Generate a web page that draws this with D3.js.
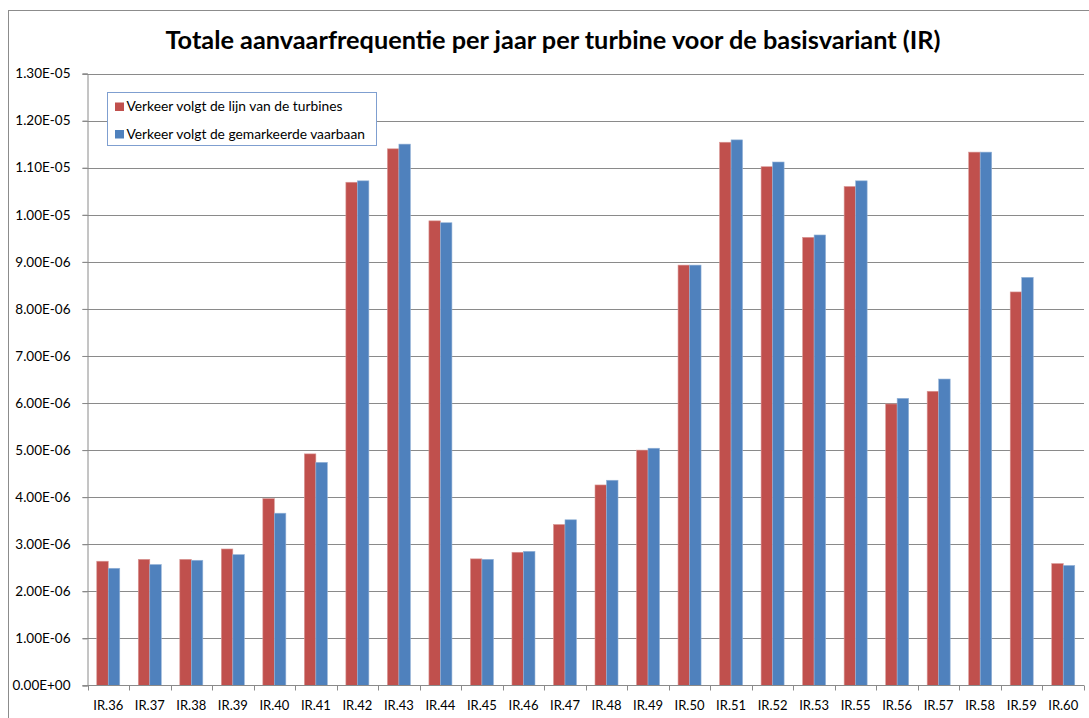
<!DOCTYPE html>
<html>
<head>
<meta charset="utf-8">
<script src="https://cdn.jsdelivr.net/npm/d3@7"></script>
<style>
  html, body { margin: 0; padding: 0; background: #fff; }
  svg { display: block; font-family: Lato, "Open Sans", sans-serif; }
</style>
</head>
<body>
<svg id="chart" width="1089" height="718"></svg>
<script>
// Turbines (IR.54 is absent from the set)
const categories = ["IR.36","IR.37","IR.38","IR.39","IR.40","IR.41","IR.42","IR.43","IR.44","IR.45","IR.46","IR.47","IR.48","IR.49","IR.50","IR.51","IR.52","IR.53","IR.55","IR.56","IR.57","IR.58","IR.59","IR.60"];

const seriesNames = ["Verkeer volgt de lijn van de turbines", "Verkeer volgt de gemarkeerde vaarbaan"];

// Collision frequency per year per turbine
const lijnTurbines = [2.64e-6,2.68e-6,2.68e-6,2.90e-6,3.97e-6,4.92e-6,1.069e-5,1.140e-5,9.87e-6,2.69e-6,2.83e-6,3.42e-6,4.26e-6,5.00e-6,8.93e-6,1.154e-5,1.102e-5,9.52e-6,1.060e-5,5.98e-6,6.25e-6,1.133e-5,8.36e-6,2.59e-6];
const gemarkeerdeVaarbaan = [2.49e-6,2.57e-6,2.66e-6,2.78e-6,3.66e-6,4.74e-6,1.072e-5,1.150e-5,9.83e-6,2.68e-6,2.85e-6,3.52e-6,4.36e-6,5.04e-6,8.93e-6,1.159e-5,1.112e-5,9.57e-6,1.072e-5,6.10e-6,6.51e-6,1.133e-5,8.67e-6,2.55e-6];

const yTicks = [0,1e-6,2e-6,3e-6,4e-6,5e-6,6e-6,7e-6,8e-6,9e-6,1e-5,1.1e-5,1.2e-5,1.3e-5];
const yTickLabels = ["0.00E+00","1.00E-06","2.00E-06","3.00E-06","4.00E-06","5.00E-06","6.00E-06","7.00E-06","8.00E-06","9.00E-06","1.00E-05","1.10E-05","1.20E-05","1.30E-05"];

const colors = ["#C0504D", "#4F81BD"];
const title = "Totale aanvaarfrequentie per jaar per turbine voor de basisvariant (IR)";

const svg = d3.select("#chart");

// Chart area frame
svg.append("rect")
  .attr("x", 8.5).attr("y", 10.5)
  .attr("width", 1100).attr("height", 720)
  .attr("fill", "#fff").attr("stroke", "#8c8c8c").attr("stroke-width", 1);

const plot = { left: 87.5, right: 1084, top: 73.5, bottom: 685.5 };

const x = d3.scaleBand()
  .domain(categories)
  .range([plot.left, plot.right])
  .paddingInner(0).paddingOuter(0);

const y = d3.scaleLinear()
  .domain([0, 1.3e-5])
  .range([plot.bottom, plot.top]);

// Horizontal gridlines
svg.append("g")
  .selectAll("line")
  .data(yTicks.slice(1))
  .join("line")
  .attr("x1", plot.left - 5).attr("x2", plot.right)
  .attr("y1", d => Math.round(y(d)) + 0.5).attr("y2", d => Math.round(y(d)) + 0.5)
  .attr("stroke", "#8a8a8a").attr("stroke-width", 1.2);

// Bars: two series side by side, centred in each category band
const data = categories.map((c, i) => ({ cat: c, vals: [lijnTurbines[i], gemarkeerdeVaarbaan[i]] }));
const groupW = 23;
const barW = groupW / 2;

const groups = svg.append("g")
  .selectAll("g")
  .data(data)
  .join("g")
  .attr("transform", d => `translate(${x(d.cat) + (x.bandwidth() - groupW) / 2},0)`);

groups.selectAll("rect")
  .data(d => d.vals.map((v, k) => ({ v, k })))
  .join("rect")
  .attr("x", d => d.k * barW)
  .attr("width", barW)
  .attr("y", d => y(d.v))
  .attr("height", d => y(0) - y(d.v))
  .attr("fill", d => colors[d.k])
  .attr("stroke", d => d.k === 0 ? "#d99896" : "#95b3d7")
  .attr("stroke-width", 0.6);

// Y axis
const yAxis = d3.axisLeft(y)
  .tickValues(yTicks)
  .tickFormat((d, i) => yTickLabels[i])
  .tickSize(5)
  .tickPadding(12);

const gy = svg.append("g")
  .attr("transform", `translate(${plot.left},0)`)
  .call(yAxis);
gy.select(".domain").attr("stroke", "#8a8a8a");
gy.selectAll(".tick line").attr("stroke", "#8a8a8a");
gy.selectAll(".tick text")
  .attr("font-family", "Lato, sans-serif")
  .attr("font-size", 13.5)
  .attr("fill", "#000");

// X axis with ticks on category boundaries
const gx = svg.append("g")
  .attr("transform", `translate(0,${plot.bottom})`);
gx.append("line")
  .attr("x1", plot.left - 5).attr("x2", plot.right)
  .attr("y1", 0).attr("y2", 0)
  .attr("stroke", "#8a8a8a");
gx.selectAll("line.tk")
  .data(categories.concat(["end"]))
  .join("line")
  .attr("class", "tk")
  .attr("x1", (d, i) => Math.round(plot.left + i * x.bandwidth()) + 0.5)
  .attr("x2", (d, i) => Math.round(plot.left + i * x.bandwidth()) + 0.5)
  .attr("y1", 0).attr("y2", 5)
  .attr("stroke", "#8a8a8a");
gx.selectAll("text")
  .data(categories)
  .join("text")
  .attr("x", d => x(d) + x.bandwidth() / 2)
  .attr("y", 24)
  .attr("text-anchor", "middle")
  .attr("font-size", 13)
  .attr("fill", "#000")
  .text(d => d);

// Title
svg.append("text")
  .attr("x", 553).attr("y", 49)
  .attr("text-anchor", "middle")
  .attr("font-size", 25.3)
  .attr("font-weight", "bold")
  .attr("fill", "#000")
  .text(title);

// Legend
const lg = svg.append("g").attr("transform", "translate(107.5,92.5)");
lg.append("rect")
  .attr("width", 269).attr("height", 53)
  .attr("fill", "#fff").attr("stroke", "#7f9fd0").attr("stroke-width", 1);
seriesNames.forEach((name, i) => {
  lg.append("rect")
    .attr("x", 7.5).attr("y", 10 + i * 27.5)
    .attr("width", 9).attr("height", 8.5)
    .attr("fill", colors[i]);
  lg.append("text")
    .attr("x", 19).attr("y", 18.5 + i * 27.5)
    .attr("font-size", 13.8)
    .attr("fill", "#000")
    .text(name);
});
</script>
</body>
</html>
